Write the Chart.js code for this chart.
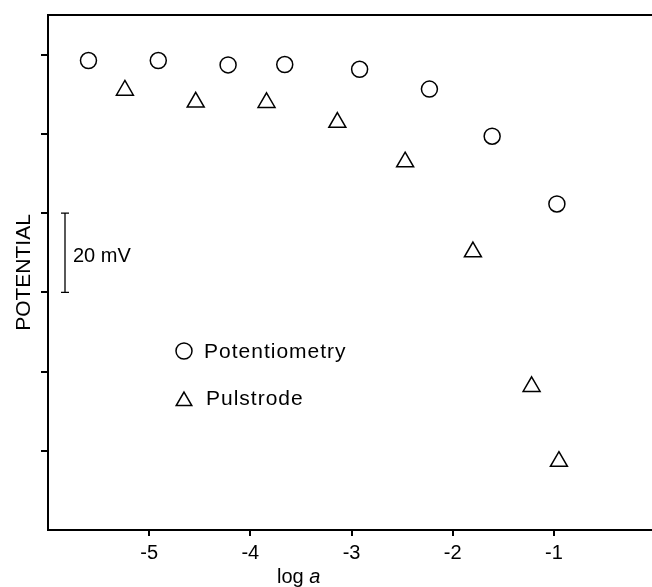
<!DOCTYPE html>
<html><head><meta charset="utf-8">
<script src="https://cdn.jsdelivr.net/npm/chart.js@4"></script>
<style>html,body{margin:0;padding:0;background:#fff;overflow:hidden}</style>
</head><body>
<canvas id="c" width="652" height="587"></canvas>
<script>
// ---- data ----
const seriesNames = ['Potentiometry', 'Pulstrode'];
const potX = [-5.60, -4.91, -4.22, -3.66, -2.92, -2.23, -1.61, -0.97];
const potY = [118.5, 118.5, 117.4, 117.5, 116.3, 111.3, 99.4, 82.3];
const pulX = [-5.24, -4.54, -3.84, -3.14, -2.47, -1.80, -1.22, -0.95];
const pulY = [111.0, 108.0, 107.9, 102.9, 92.9, 70.2, 36.2, 17.3];
const xTicks = [-5, -4, -3, -2, -1];
const yTicks = [20, 40, 60, 80, 100, 120];
const xRange = [-6, -0.03];
const yRange = [0, 130];
const scaleBarMV = [60, 80];
const scaleBarLabel = '20 mV';
const xTitle = ['log ', 'a'];
const yTitle = 'POTENTIAL';

const FONT = "'Liberation Sans', Arial, Helvetica, sans-serif";

function pts(xs, ys) { return xs.map((x, i) => ({x, y: ys[i]})); }

function drawTri(ctx, x, y, r) {
  ctx.beginPath();
  let rad = 0;
  ctx.moveTo(x + Math.sin(rad) * r, y - Math.cos(rad) * r);
  rad += 2 * Math.PI / 3;
  ctx.lineTo(x + Math.sin(rad) * r, y - Math.cos(rad) * r);
  rad += 2 * Math.PI / 3;
  ctx.lineTo(x + Math.sin(rad) * r, y - Math.cos(rad) * r);
  ctx.closePath();
  ctx.stroke();
}

const extras = {
  id: 'extras',
  afterDraw(chart) {
    const ctx = chart.ctx;
    const ys = chart.scales.y;
    const ca = chart.chartArea;
    ctx.save();
    ctx.strokeStyle = '#000';
    ctx.fillStyle = '#000';
    // top frame line
    ctx.lineWidth = 2;
    ctx.beginPath();
    ctx.moveTo(ca.left - 1, ca.top);
    ctx.lineTo(chart.width, ca.top);
    ctx.stroke();
    // scale bar
    const bx = 65;
    const y1 = ys.getPixelForValue(scaleBarMV[1]);
    const y0 = ys.getPixelForValue(scaleBarMV[0]);
    ctx.lineWidth = 1.3;
    ctx.beginPath();
    ctx.moveTo(bx, y1); ctx.lineTo(bx, y0);
    ctx.moveTo(bx - 4, y1); ctx.lineTo(bx + 4, y1);
    ctx.moveTo(bx - 4, y0); ctx.lineTo(bx + 4, y0);
    ctx.stroke();
    ctx.font = '20px ' + FONT;
    ctx.textBaseline = 'alphabetic';
    ctx.textAlign = 'left';
    ctx.fillText(scaleBarLabel, 73, 262);
    // legend
    ctx.lineWidth = 1.5;
    ctx.beginPath();
    ctx.arc(184, 351, 8, 0, Math.PI * 2);
    ctx.stroke();
    drawTri(ctx, 184, 401, 9);
    ctx.font = '21px ' + FONT;
    ctx.letterSpacing = '1px';
    ctx.fillText(seriesNames[0], 204, 358);
    ctx.fillText(seriesNames[1], 206, 405);
    ctx.letterSpacing = '0px';
    // x title
    ctx.font = '20px ' + FONT;
    const w = ctx.measureText(xTitle[0]).width;
    ctx.fillText(xTitle[0], 277, 583);
    ctx.font = 'italic 20px ' + FONT;
    ctx.fillText(xTitle[1], 277 + w, 583);
    ctx.restore();
  }
};

new Chart(document.getElementById('c'), {
  type: 'scatter',
  data: {
    datasets: [
      {label: seriesNames[0], data: pts(potX, potY), pointStyle: 'circle', pointRadius: 8,
       pointHoverRadius: 8, borderColor: '#000', backgroundColor: 'rgba(0,0,0,0)', pointBorderWidth: 1.5},
      {label: seriesNames[1], data: pts(pulX, pulY), pointStyle: 'triangle', pointRadius: 9.8,
       pointHoverRadius: 9.8, borderColor: '#000', backgroundColor: 'rgba(0,0,0,0)', pointBorderWidth: 1.5}
    ]
  },
  options: {
    responsive: false,
    animation: false,
    events: [],
    layout: {autoPadding: false, padding: {top: 15, left: 0, right: 0, bottom: 0}},
    plugins: {legend: {display: false}, tooltip: {enabled: false}},
    scales: {
      x: {
        type: 'linear', position: 'bottom', min: xRange[0], max: xRange[1],
        afterBuildTicks: s => { s.ticks = xTicks.map(v => ({value: v})); },
        afterFit: s => { s.height = 57; s.paddingLeft = 0; s.paddingRight = 0; },
        grid: {drawOnChartArea: false, drawTicks: true, tickLength: 6, lineWidth: 2, color: '#000'},
        border: {display: true, color: '#000', width: 2},
        ticks: {color: '#000', font: {family: FONT, size: 20}, padding: 5, maxRotation: 0,
                callback: v => String(v)}
      },
      y: {
        type: 'linear', position: 'left', min: yRange[0], max: yRange[1],
        afterBuildTicks: s => { s.ticks = yTicks.map(v => ({value: v})); },
        afterFit: s => { s.width = 48; s.paddingTop = 0; s.paddingBottom = 0; },
        grid: {drawOnChartArea: false, drawTicks: true, tickLength: 7, lineWidth: 2, color: '#000'},
        border: {display: true, color: '#000', width: 2},
        ticks: {display: false},
        title: {display: true, text: yTitle, color: '#000', font: {family: FONT, size: 21},
                padding: {top: 12, bottom: 0}}
      }
    }
  },
  plugins: [extras]
});
</script>
</body></html>
